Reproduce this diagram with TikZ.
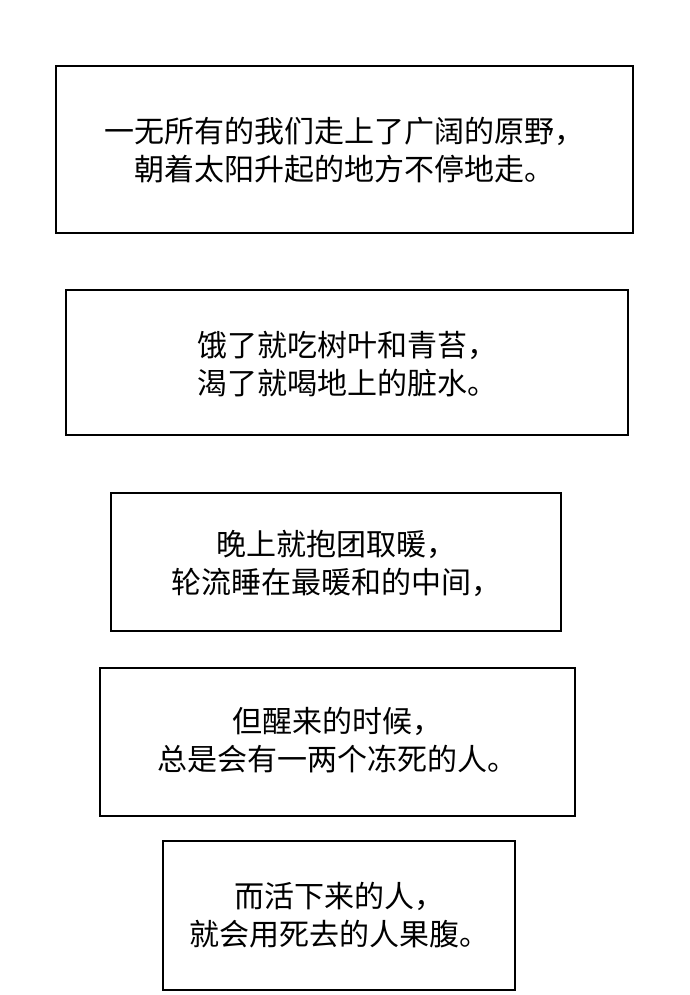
\documentclass[tikz,border=0pt]{standalone}
\usepackage{fontspec}
\newfontfamily\cjk{Noto Sans CJK SC}
\usetikzlibrary{positioning}
\tikzset{
  panel/.style={draw=black, line width=2.4pt, fill=white},
  caption/.style={align=center, font=\cjk\fontsize{30}{38}\selectfont}
}
\begin{document}
\begin{tikzpicture}[x=1pt,y=-1pt]
        \useasboundingbox (0,0) rectangle (690,995);

        %first panel
        \draw [panel] (56,66) rectangle (633,233);
        \node [caption] (first) at (344.5,150) {一无所有的我们走上了广阔的原野，\\朝着太阳升起的地方不停地走。};

        %second panel
        \draw [panel] (66,290) rectangle (628,435);
        \node [caption] (second) at (347,364) {饿了就吃树叶和青苔，\\渴了就喝地上的脏水。};

        %third panel
        \draw [panel] (111,493) rectangle (561,631);
        \node [caption] (third) at (336,563) {晚上就抱团取暖，\\轮流睡在最暖和的中间，};

        %fourth panel
        \draw [panel] (100,668) rectangle (575,816);
        \node [caption] (fourth) at (337.5,740) {但醒来的时候，\\总是会有一两个冻死的人。};

        %fifth panel
        \draw [panel] (163,841) rectangle (515,990);
        \node [caption] (fifth) at (339,915) {而活下来的人，\\就会用死去的人果腹。};

\end{tikzpicture}
\end{document}
